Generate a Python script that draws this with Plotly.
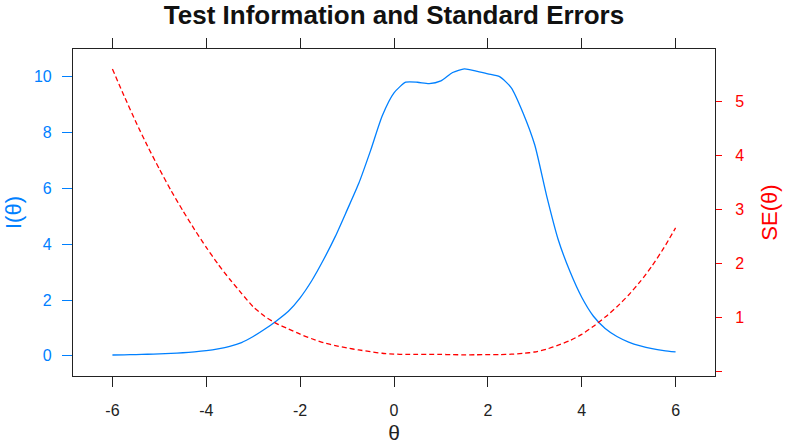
import plotly.graph_objects as go

theta = [-6.00, -5.75, -5.50, -5.25, -5.00, -4.75, -4.50, -4.25, -4.00, -3.75,
         -3.50, -3.25, -3.00, -2.75, -2.50, -2.25, -2.00, -1.75, -1.50, -1.25,
         -1.00, -0.75, -0.50, -0.25, 0.00, 0.25, 0.50, 0.75, 1.00, 1.25,
         1.50, 1.75, 2.00, 2.25, 2.50, 2.75, 3.00, 3.25, 3.50, 3.75,
         4.00, 4.25, 4.50, 4.75, 5.00, 5.25, 5.50, 5.75, 6.00]

info = [0.032, 0.038, 0.047, 0.058, 0.071, 0.089, 0.113, 0.145, 0.189, 0.253,
        0.342, 0.476, 0.694, 0.961, 1.262, 1.60, 2.08, 2.70, 3.45, 4.28,
        5.22, 6.18, 7.35, 8.60, 9.42, 9.80, 9.80, 9.75, 9.85, 10.15,
        10.28, 10.20, 10.10, 10.00, 9.60, 8.70, 7.55, 5.75, 4.16, 3.02,
        2.10, 1.42, 0.98, 0.694, 0.496, 0.359, 0.26, 0.191, 0.141]

se = [5.60, 5.10, 4.62, 4.17, 3.75, 3.35, 2.98, 2.63, 2.30, 1.99,
      1.71, 1.45, 1.20, 1.02, 0.89, 0.791, 0.693, 0.609, 0.538, 0.483,
      0.438, 0.402, 0.369, 0.341, 0.326, 0.319, 0.319, 0.320, 0.319, 0.314,
      0.312, 0.313, 0.315, 0.316, 0.323, 0.339, 0.364, 0.417, 0.490, 0.575,
      0.69, 0.84, 1.01, 1.20, 1.42, 1.67, 1.96, 2.29, 2.66]

x_ticks = [-6, -4, -2, 0, 2, 4, 6]
x_ticktext = ["-6", "-4", "-2", "0", "2", "4", "6"]
info_ticks = [0, 2, 4, 6, 8, 10]
se_ticks = [0, 1, 2, 3, 4, 5]
se_ticktext = ["", "1", "2", "3", "4", "5"]

BLUE = "#0080ff"
RED = "#ff0000"
FRAME = "#222222"
FONT = "Liberation Sans, Arial, sans-serif"

fig = go.Figure()
fig.add_trace(go.Scatter(x=theta, y=info, mode="lines", yaxis="y",
                         line=dict(color=BLUE, width=1.3, shape="spline", smoothing=0.6),
                         showlegend=False))
fig.add_trace(go.Scatter(x=theta, y=se, mode="lines", yaxis="y2",
                         line=dict(color=RED, width=1.3, dash="5px,3px", shape="spline", smoothing=0.6),
                         showlegend=False))

fig.update_layout(
    width=786, height=444,
    margin=dict(l=73, r=71, t=49, b=68, autoexpand=False),
    paper_bgcolor="white", plot_bgcolor="white",
    font=dict(family=FONT, size=16, color="black"),
    title=dict(text="<b>Test Information and Standard Errors</b>", x=0.5, xanchor="center",
               xref="paper", y=1 - 14.5 / 444, yanchor="middle",
               font=dict(size=26, color="#111")),
    xaxis=dict(range=[-6.84, 6.84], tickvals=x_ticks, ticktext=x_ticktext,
               automargin=False,
               ticks="outside", ticklen=10, ticklabelstandoff=10,
               tickcolor=FRAME, showline=True, linecolor=FRAME, linewidth=1.2,
               mirror="ticks", showgrid=False, zeroline=False,
               tickfont=dict(size=16, color="#222"),
               title=dict(text="θ", font=dict(size=21, color="#222"), standoff=16)),
    yaxis=dict(range=[-0.72, 10.99], tickvals=info_ticks, ticks="outside", ticklen=10,
               automargin=False, ticklabelstandoff=7,
               tickcolor=BLUE, showline=True, linecolor=FRAME, linewidth=1.2,
               showgrid=False, zeroline=False,
               tickfont=dict(size=16, color=BLUE),
               title=dict(text="I(θ)", font=dict(size=22, color=BLUE), standoff=6)),
    yaxis2=dict(range=[-0.08, 5.97], tickvals=se_ticks, ticktext=se_ticktext,
                overlaying="y", side="right", ticks="outside", ticklen=6,
                automargin=False, ticklabelstandoff=10,
                tickcolor=RED, showline=True, linecolor=FRAME, linewidth=1.2,
                showgrid=False, zeroline=False,
                tickfont=dict(size=16, color=RED),
                title=dict(text="SE(θ)", font=dict(size=22, color=RED), standoff=18)),
)

fig.write_html("out.html", config={"displayModeBar": False},
               post_script="document.body.style.margin='0px';")
